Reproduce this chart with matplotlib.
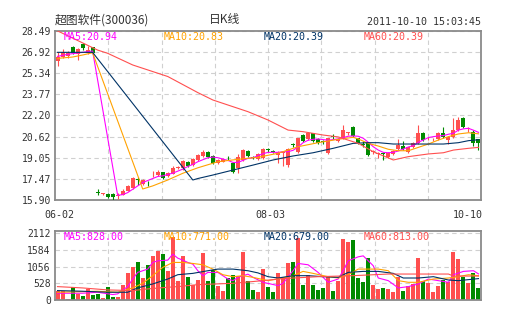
import matplotlib
matplotlib.use("Agg")
import matplotlib.pyplot as plt

# ---- data (daily candles, 2011-06-02 .. 2011-10-10) ----
opens = [26.25, 26.58, 26.63, 27.28, 26.78, 27.52, 26.87, 27.28, 16.47, 16.36,
         16.35, 16.35, 16.18, 16.30, 16.60, 16.77, 17.40, 17.09, 17.15, 17.88,
         17.76, 17.96, 17.70, 17.84, 18.30, 18.26, 18.75, 18.50, 18.88, 19.18,
         19.50, 19.18, 18.63, 18.75, 19.02, 18.68, 18.26, 18.88, 19.57, 19.10,
         18.93, 19.01, 19.63, 19.55, 19.25, 19.38, 18.50, 20.01, 19.50, 20.74,
         20.42, 20.87, 20.42, 20.21, 19.42, 20.61, 20.30, 20.49, 20.89, 21.36,
         20.49, 20.01, 20.12, 19.49, 19.34, 19.34, 19.13, 19.33, 19.68, 19.92,
         19.45, 19.82, 20.12, 20.91, 20.49, 20.41, 20.42, 20.91, 20.37, 20.62,
         21.11, 21.99, 21.19, 20.99, 20.42]
closes = [26.55, 26.95, 26.87, 26.87, 27.15, 27.20, 27.10, 26.87, 16.45, 16.38,
          16.12, 16.12, 16.20, 16.55, 16.95, 17.56, 17.38, 17.39, 17.14, 17.89,
          18.00, 17.56, 17.90, 18.31, 18.38, 18.80, 18.43, 18.93, 19.25, 19.50,
          19.13, 18.63, 18.88, 18.93, 19.00, 18.01, 19.08, 19.62, 19.18, 19.00,
          19.33, 19.68, 19.62, 19.45, 19.50, 19.42, 19.68, 20.00, 20.49, 20.30,
          20.91, 20.30, 20.12, 20.20, 20.49, 20.60, 20.45, 21.11, 20.90, 20.67,
          20.12, 20.00, 19.25, 19.50, 19.35, 19.33, 19.38, 19.57, 19.99, 19.68,
          19.82, 20.17, 20.87, 20.37, 20.50, 20.42, 20.91, 20.62, 20.62, 21.11,
          21.86, 21.32, 21.20, 20.12, 20.17]
highs = [26.90, 27.15, 27.00, 27.35, 27.25, 27.60, 27.37, 27.30, 16.75, 16.45,
         16.40, 16.40, 16.40, 16.70, 17.05, 17.64, 17.64, 17.45, 17.35, 18.05,
         18.10, 18.00, 17.95, 18.40, 18.45, 18.88, 18.80, 19.00, 19.35, 19.60,
         19.55, 19.25, 18.95, 19.00, 19.15, 18.75, 19.30, 19.70, 19.60, 19.15,
         19.40, 19.75, 19.75, 19.60, 19.55, 19.50, 19.75, 20.15, 20.55, 20.80,
         21.00, 20.90, 20.50, 20.40, 20.55, 20.85, 20.55, 21.50, 21.00, 21.40,
         20.55, 20.30, 20.15, 19.60, 19.50, 19.45, 19.45, 19.62, 20.42, 20.30,
         19.85, 20.20, 21.49, 21.00, 20.60, 20.50, 21.00, 21.32, 20.70, 21.99,
         22.10, 22.05, 21.35, 21.10, 20.45]
lows = [25.88, 26.45, 26.50, 26.80, 26.33, 27.10, 26.80, 26.75, 16.25, 16.30,
        16.05, 15.92, 15.95, 16.25, 16.55, 16.70, 17.00, 17.00, 16.95, 17.65,
        17.70, 17.50, 17.65, 17.80, 18.20, 18.13, 18.35, 18.45, 18.80, 19.10,
        19.05, 18.55, 18.55, 18.70, 18.85, 17.90, 17.90, 18.80, 19.10, 18.95,
        18.85, 18.95, 19.50, 19.40, 18.63, 18.45, 18.35, 19.85, 19.40, 20.25,
        20.35, 20.25, 20.05, 20.05, 19.35, 20.45, 20.25, 20.45, 20.75, 20.60,
        20.05, 19.85, 19.15, 19.35, 19.05, 18.90, 19.05, 19.28, 19.60, 19.62,
        19.38, 19.78, 20.05, 20.30, 20.40, 20.30, 20.38, 20.55, 20.10, 20.55,
        21.05, 21.25, 20.95, 19.90, 19.62]
volumes = [299, 299, 40, 425, 194, 142, 352, 173, 194, 68,
           425, 110, 89, 488, 845, 1055, 1213, 688, 1118, 1401,
           1559, 1475, 908, 2000, 593, 1401, 740, 488, 646, 1507,
           593, 950, 457, 278, 688, 803, 772, 1538, 593, 320,
           247, 981, 425, 247, 845, 740, 1160, 1213, 1979, 488,
           803, 488, 330, 372, 772, 278, 614, 1947, 1843, 1906,
           688, 562, 1318, 488, 352, 383, 352, 247, 740, 299,
           457, 509, 1328, 614, 530, 247, 457, 635, 583, 1528,
           1297, 740, 530, 845, 383]

# moving average lines as drawn (candle index, value)
ma5_idx = [0, 2, 4, 6, 7, 12, 13, 14, 15, 16, 17, 18, 19, 20, 21, 22, 23, 24, 25, 26,
           27, 28, 29, 30, 31, 32, 33, 34, 35, 36, 37, 38, 39, 40, 41, 42, 43, 44, 45, 46,
           47, 48, 49, 50, 51, 52, 53, 54, 55, 56, 57, 58, 59, 60, 61, 62, 63, 64, 65, 66,
           67, 68, 69, 70, 71, 72, 73, 74, 75, 76, 77, 78, 79, 80, 81, 82, 83, 84]
ma5_val = [26.60, 26.75, 26.85, 26.95, 27.00, 16.25, 16.30, 16.45, 16.70, 16.95,
           17.20, 17.35, 17.50, 17.65, 17.70, 17.80, 17.90, 18.05, 18.20, 18.40,
           18.55, 18.75, 18.90, 19.05, 19.10, 19.05, 18.95, 18.85, 18.70, 18.70,
           18.85, 19.00, 19.05, 19.20, 19.35, 19.45, 19.45, 19.45, 19.50, 19.50,
           19.60, 19.85, 20.17, 20.35, 20.42, 20.45, 20.40, 20.35, 20.40, 20.45,
           20.55, 20.65, 20.67, 20.65, 20.50, 20.20, 19.87, 19.62, 19.45, 19.42,
           19.45, 19.55, 19.70, 19.85, 19.95, 20.20, 20.37, 20.55, 20.62, 20.67,
           20.70, 20.80, 20.87, 21.11, 21.20, 21.24, 21.10, 20.94]
ma10_idx = [0, 3, 5, 7, 17, 19, 22, 25, 28, 32, 36, 40, 44, 48, 52, 56, 59, 60, 62,
            64, 66, 68, 70, 72, 74, 76, 78, 80, 82, 84]
ma10_val = [26.45, 26.55, 26.70, 26.87, 16.72, 16.95, 17.39, 17.89, 18.30, 18.75,
            18.93, 19.08, 19.38, 19.87, 20.17, 20.42, 20.57, 20.45, 20.12, 19.92,
            19.68, 19.57, 19.57, 19.82, 20.07, 20.37, 20.62, 20.82, 20.91, 20.83]
ma20_idx = [0, 7, 27, 28, 31, 35, 39, 43, 47, 51, 55, 59, 62, 64, 67, 72, 77, 80, 82, 84]
ma20_val = [26.90, 26.90, 17.39, 17.50, 17.76, 18.13, 18.50, 18.88, 19.18, 19.42,
            19.75, 20.12, 20.17, 20.17, 20.07, 20.07, 20.07, 20.17, 20.32, 20.39]
ma60_idx = [0, 8, 10, 15, 22, 28, 31, 38, 42, 46, 49, 53, 56, 60, 63, 67, 70, 74, 77,
            79, 82, 84]
ma60_val = [28.50, 27.07, 26.83, 25.96, 25.10, 23.90, 23.35, 22.48, 21.86, 21.11,
            20.99, 20.74, 20.60, 20.12, 19.50, 18.88, 19.13, 19.33, 19.42, 19.62,
            19.75, 19.82]

vma5_idx = [0, 5, 8, 11, 12, 14, 15, 16, 18, 19, 20, 22, 23, 24, 25, 26, 27, 28, 29,
            30, 32, 34, 35, 36, 38, 39, 41, 44, 45, 47, 48, 50, 52, 54, 56, 57, 58, 60,
            61, 63, 64, 66, 68, 70, 72, 74, 76, 78, 79, 81, 83, 84]
vma5_val = [215, 215, 246, 173, 194, 425, 666, 876, 981, 1192, 1244, 1265, 1454, 1328,
            1265, 1192, 1139, 929, 772, 876, 876, 666, 614, 719, 820, 720, 562, 457,
            530, 929, 1160, 1118, 876, 562, 666, 929, 1244, 1370, 1401, 1087, 698, 614,
            383, 425, 509, 666, 614, 562, 803, 908, 929, 828]
vma10_idx = [0, 8, 12, 15, 17, 19, 21, 23, 25, 27, 29, 31, 33, 35, 37, 39, 42, 45, 47,
             49, 51, 54, 56, 58, 60, 62, 64, 66, 68, 70, 72, 75, 78, 80, 82, 84]
vma10_val = [246, 278, 246, 383, 530, 772, 1034, 1192, 1192, 1160, 1118, 981, 803, 740,
             772, 719, 614, 698, 772, 908, 845, 740, 698, 803, 981, 981, 981, 929, 614,
             562, 562, 666, 698, 740, 803, 771]
vma20_idx = [0, 5, 10, 14, 16, 19, 22, 24, 27, 30, 32, 35, 38, 40, 42, 44, 47, 50, 53,
             56, 58, 61, 64, 67, 69, 72, 75, 78, 80, 84]
vma20_val = [299, 278, 246, 246, 383, 509, 666, 803, 845, 929, 981, 981, 929, 860, 740,
             698, 772, 772, 740, 719, 876, 908, 908, 845, 698, 698, 740, 635, 614, 679]
vma60_idx = [0, 5, 10, 15, 18, 22, 24, 28, 35, 40, 45, 52, 59, 66, 78, 79, 84]
vma60_val = [425, 383, 320, 299, 352, 404, 425, 488, 530, 600, 680, 740, 772, 824, 824,
             760, 760]

price_ticks = [15.90, 17.47, 19.05, 20.62, 22.20, 23.77, 25.34, 26.92, 28.49]
price_labels = ["15.90", "17.47", "19.05", "20.62", "22.20", "23.77", "25.34", "26.92", "28.49"]
vol_ticks = [0, 528, 1056, 1584, 2112]
vol_labels = ["0", "528", "1056", "1584", "2112"]
date_labels = ["06-02", "08-03", "10-10"]
date_idx = [0, 42, 84]

title_name = "超图软件(300036)"
title_kind = "日K线"
stamp = "2011-10-10 15:03:45"
ma_labels = ["MA5:20.94", "MA10:20.83", "MA20:20.39", "MA60:20.39"]
vol_ma_labels = ["MA5:828.00", "MA10:771.00", "MA20:679.00", "MA60:813.00"]

RED = "#ff4f4f"
GREEN = "#008a00"
MA_COLORS = ["#ff00ff", "#ffa200", "#003366", "#ff4f4f"]
GRID = "#d0d0d0"
FRAME = "#8a8a8a"
TXT = "#333333"
MONO = "DejaVu Sans Mono"
CJK = ["Noto Sans CJK SC", "DejaVu Sans"]

W, H = 505, 330
fig = plt.figure(figsize=(W / 100, H / 100), dpi=100)


def box(l, t, r, b):
    return [l / W, 1 - b / H, (r - l) / W, (b - t) / H]


def px(x, y):
    return x / W, 1 - y / H


ax = fig.add_axes(box(55, 31, 481, 200))
axv = fig.add_axes(box(55, 231, 481, 300))

n = len(closes)
xs = list(range(n))
vgrid = [-0.5 + k * n / 8 for k in range(1, 8)]

for a in (ax, axv):
    a.set_xlim(-0.5, n - 0.5)
    a.set_xticks(vgrid)
    a.set_xticklabels([])
    a.tick_params(length=0, pad=3, labelsize=7, labelcolor=TXT)
    a.grid(True, linestyle=(0, (4, 3)), color=GRID, linewidth=0.8)
    a.set_axisbelow(True)
    for s in a.spines.values():
        s.set_color(FRAME)
        s.set_linewidth(1.3)

ax.set_ylim(price_ticks[0], price_ticks[-1])
ax.set_yticks(price_ticks)
ax.set_yticklabels(price_labels, family=MONO)

axv.set_ylim(0, 2190)
axv.set_yticks(vol_ticks)
axv.set_yticklabels(vol_labels, family=MONO)

# candles
cols = [RED if c >= o else GREEN for o, c in zip(opens, closes)]
ax.vlines(xs, lows, highs, colors=cols, linewidth=0.8, zorder=3)
bot = [min(o, c) for o, c in zip(opens, closes)]
hgt = [max(abs(c - o), 0.06) for o, c in zip(opens, closes)]
ax.bar(xs, hgt, bottom=bot, width=0.8, color=cols, linewidth=0, zorder=4)

# volume bars
axv.bar(xs, volumes, width=0.8, color=cols, linewidth=0, zorder=2)

for (ix, vals), c in zip([(ma5_idx, ma5_val), (ma10_idx, ma10_val),
                          (ma20_idx, ma20_val), (ma60_idx, ma60_val)], MA_COLORS):
    ax.plot(ix, vals, color=c, linewidth=0.8, zorder=5)
for (ix, vals), c in zip([(vma5_idx, vma5_val), (vma10_idx, vma10_val),
                          (vma20_idx, vma20_val), (vma60_idx, vma60_val)], MA_COLORS):
    axv.plot(ix, vals, color=c, linewidth=0.8, zorder=5)

# legends inside panels
for k, (t, c) in enumerate(zip(ma_labels, MA_COLORS)):
    fig.text(*px(64 + 100 * k, 37), t, color=c, family=MONO, fontsize=7.2, va="center")
for k, (t, c) in enumerate(zip(vol_ma_labels, MA_COLORS)):
    fig.text(*px(64 + 100 * k, 237), t, color=c, family=MONO, fontsize=7.2, va="center")

# date labels
for i, t in zip(date_idx, date_labels):
    if i == n - 1:
        fig.text(*px(483, 215), t, color=TXT, family=MONO, fontsize=7.2, ha="right", va="center")
    else:
        fig.text(*px(57.5 + 5.01 * i + 2, 215), t, color=TXT, family=MONO, fontsize=7.2,
                 ha="center", va="center")

# header
fig.text(*px(55, 20), title_name, color=TXT, family=CJK, fontsize=8.5, va="center")
fig.text(*px(225, 20), title_kind, color=TXT, family=CJK, fontsize=8.5, va="center", ha="center")
fig.text(*px(481, 22), stamp, color=TXT, family=MONO, fontsize=7.2, va="center", ha="right")

fig.savefig("out.png", dpi=100)
